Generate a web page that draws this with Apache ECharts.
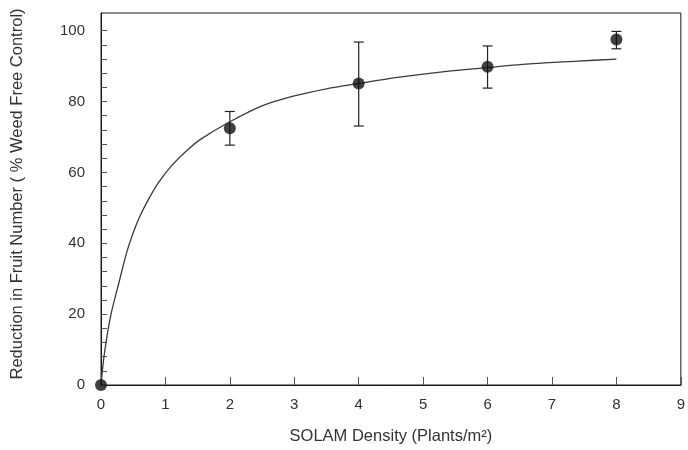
<!DOCTYPE html>
<html>
<head>
<meta charset="utf-8">
<script src="https://cdn.jsdelivr.net/npm/echarts@6/dist/echarts.min.js"></script>
<style>html,body{margin:0;padding:0;background:#fff}#c{width:688px;height:450px}</style>
</head>
<body>
<div id="c"></div>
<script>
// Observed data (SOLAM density vs reduction in fruit number)
var densities = [0, 2, 4, 6, 8];
var meanReduction = [0, 72.5, 85.1, 89.8, 97.5];
var errLow = [0, 67.7, 73.1, 83.8, 94.9];
var errHigh = [0, 77.2, 96.8, 95.7, 99.8];

// Fitted curve, values
var curveX = [0, 0.05, 0.15, 0.28, 0.4, 0.5, 0.6, 0.75, 0.9, 1.1, 1.35, 1.55, 2, 2.5, 3, 3.5, 4, 4.6, 5.3, 6, 6.7, 7.4, 8];
var curveY = [0, 8.5, 19.5, 29, 37.5, 43, 47.5, 52.8, 57.3, 62, 66.5, 69.4, 74.3, 78.8, 81.6, 83.6, 85.1, 86.8, 88.4, 89.6, 90.7, 91.4, 92.0];

// Axis ticks
var xTicks = [0, 1, 2, 3, 4, 5, 6, 7, 8, 9];
var yLabels = [0, 20, 40, 60, 80, 100];
var yMinorTicks = [0, 4, 8, 12, 16, 20, 24, 28, 32, 36, 40, 44, 48, 52, 56, 60, 64, 68, 72, 76, 80, 84, 88, 92, 96, 100];

var chart = echarts.init(document.getElementById('c'), null, {renderer: 'canvas'});
var font = '"Liberation Sans", Arial, sans-serif';
var ink = '#1a1a1a';

var points = densities.map(function (d, i) { return [d, meanReduction[i]]; });
var bars = densities.map(function (d, i) { return [d, errLow[i], errHigh[i]]; }).filter(function (b) { return b[2] > b[1]; });
var curve = curveX.map(function (x, i) { return [x, curveY[i]]; });

chart.setOption({
  animation: false,
  backgroundColor: '#fff',
  grid: {left: 101, right: 6, top: 13, bottom: 62, show: true, borderColor: ink, borderWidth: 1, backgroundColor: 'transparent'},
  xAxis: {
    type: 'value', min: 0, max: 9, interval: 1,
    name: 'SOLAM Density (Plants/m²)', nameLocation: 'middle', nameGap: 43,
    nameTextStyle: {fontFamily: font, fontSize: 16.5, color: '#333'},
    axisLine: {show: true, lineStyle: {color: ink, width: 1}},
    axisTick: {show: true, inside: true, length: 8, lineStyle: {color: '#555', width: 1}, customValues: xTicks},
    axisLabel: {fontFamily: font, fontSize: 15, color: '#333', margin: 12, customValues: xTicks},
    splitLine: {show: false}
  },
  yAxis: {
    type: 'value', min: 0, max: 105,
    name: 'Reduction in Fruit Number ( % Weed Free Control)', nameLocation: 'middle', nameGap: 75, nameRotate: 90,
    nameTextStyle: {fontFamily: font, fontSize: 16.5, color: '#333', padding: [0, 0, 0, 10]},
    axisLine: {show: true, lineStyle: {color: ink, width: 1}},
    axisTick: {show: true, inside: true, length: 6, lineStyle: {color: '#555', width: 1}, customValues: yMinorTicks},
    axisLabel: {fontFamily: font, fontSize: 15, color: '#333', margin: 16, customValues: yLabels},
    splitLine: {show: false}
  },
  series: [
    {
      type: 'line', data: curve, smooth: 0.3, showSymbol: false, z: 2,
      lineStyle: {color: '#3a3a3a', width: 1.3}
    },
    {
      type: 'custom', z: 3,
      data: bars,
      renderItem: function (params, api) {
        var x = api.value(0);
        var lo = api.coord([x, api.value(1)]);
        var hi = api.coord([x, api.value(2)]);
        var hw = 5;
        var st = {stroke: '#222', lineWidth: 1.2};
        return {
          type: 'group',
          children: [
            {type: 'line', shape: {x1: lo[0], y1: lo[1], x2: hi[0], y2: hi[1]}, style: st},
            {type: 'line', shape: {x1: lo[0] - hw, y1: lo[1], x2: lo[0] + hw, y2: lo[1]}, style: st},
            {type: 'line', shape: {x1: hi[0] - hw, y1: hi[1], x2: hi[0] + hw, y2: hi[1]}, style: st}
          ]
        };
      }
    },
    {
      type: 'scatter', data: points, symbol: 'circle', symbolSize: 12, z: 4,
      itemStyle: {color: '#111'}
    }
  ]
});
</script>
</body>
</html>
